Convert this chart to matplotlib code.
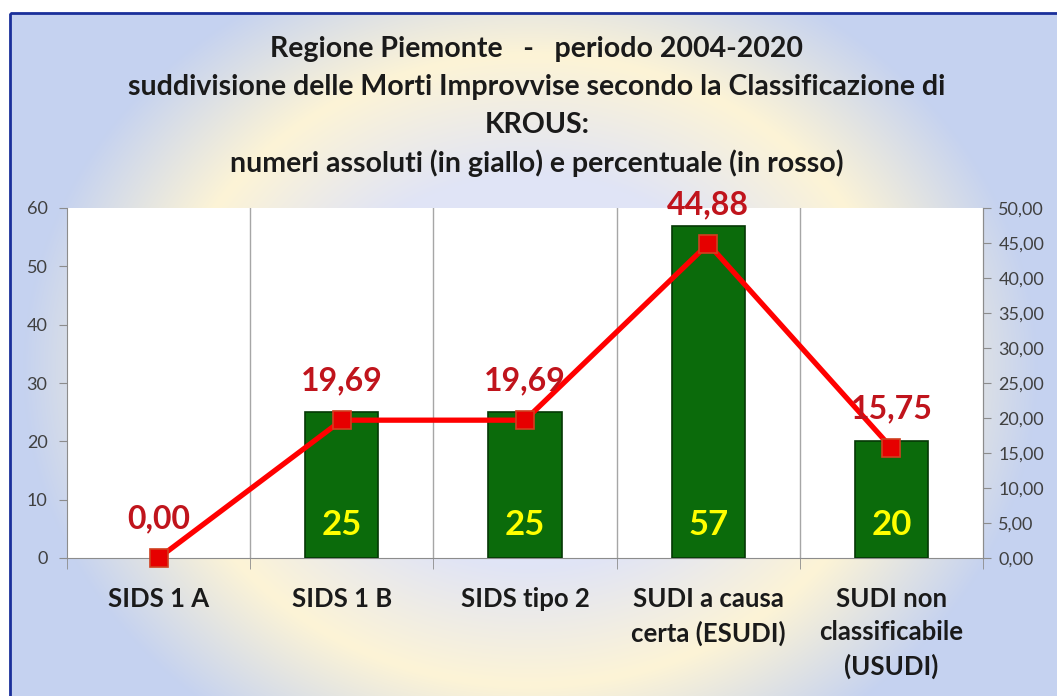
import matplotlib.pyplot as plt
import numpy as np
from matplotlib.patches import Rectangle
from matplotlib.ticker import FuncFormatter

categories = ['SIDS 1 A', 'SIDS 1 B', 'SIDS tipo 2', 'SUDI a causa\ncerta (ESUDI)',
              'SUDI non\nclassificabile\n(USUDI)']
counts = [0, 25, 25, 57, 20]
percents = [0.00, 19.69, 19.69, 44.88, 15.75]
title_lines = ['Regione Piemonte   -   periodo 2004-2020',
               'suddivisione delle Morti Improvvise secondo la Classificazione di',
               'KROUS:',
               'numeri assoluti (in giallo) e percentuale (in rosso)']

plt.rcParams['font.family'] = ['Lato', 'DejaVu Sans']

W, H = 1057, 696
fig = plt.figure(figsize=(W / 100, H / 100), dpi=100)
fig.patch.set_facecolor('white')

# background gradient (lavender centre, cream ring, blue outside)
bg = fig.add_axes([0, 0, 1, 1], zorder=0)
bg.set_xlim(0, W)
bg.set_ylim(H, 0)
bg.axis('off')
yy, xx = np.mgrid[0:H, 0:W]
r = np.sqrt(((xx - 530) / 350.0) ** 2 + ((yy - 370) / 300.0) ** 2)
lav = np.array([224, 228, 246]) / 255
cream = np.array([253, 244, 214]) / 255
blue = np.array([197, 210, 240]) / 255
t1 = np.clip((r - 0.65) / 0.4, 0, 1)[..., None]
t2 = np.clip((r - 1.05) / 0.4, 0, 1)[..., None]
img = lav * (1 - t1) + cream * t1
img = img * (1 - t2) + blue * t2
img[:13, :] = 1
img[:, :10] = 1
bg.imshow(img, extent=(0, W, H, 0), aspect='auto')
bg.add_patch(Rectangle((10, 13), W + 20, H + 20, fill=False, edgecolor='#1a2f9a', lw=2))

for i, line in enumerate(title_lines):
    bg.text(537, 49 + i * 38, line, ha='center', va='center', fontsize=20.5,
            fontweight='bold', color='#1a1a1a')

ax = fig.add_axes([67 / W, 1 - 558 / H, (983 - 67) / W, (558 - 208) / H], zorder=1)
ax.set_facecolor('white')
x = np.arange(len(categories))
for xi, c in zip(x, counts):
    if c > 0:
        ax.bar(xi, c, width=0.4, color='#0b6b0b', edgecolor='#053805', linewidth=1.2, zorder=3)
ax.set_xlim(-0.5, len(categories) - 0.5)
ax.set_ylim(0, 60)
ax.set_yticks(range(0, 61, 10))
for b in np.arange(0.5, len(categories) - 0.5):
    ax.axvline(b, color='#a6a6a6', lw=1, zorder=1)

ax.set_xticks(x)
ax.set_xticklabels(categories, fontsize=18.5, fontweight='bold', color='#1a1a1a',
                   linespacing=1.45, va='top')
ax.tick_params(axis='x', length=0, pad=21)
ax.set_xticks(np.arange(-0.5, len(categories)), minor=True)
ax.tick_params(axis='x', which='minor', length=8, color='#8c8c8c', direction='out')
ax.tick_params(axis='y', labelsize=13, labelcolor='#404040', color='#8c8c8c', length=6, pad=8)
ax.spines['top'].set_visible(False)
for s in ['left', 'bottom', 'right']:
    ax.spines[s].set_color('#8c8c8c')

for xi, c in zip(x, counts):
    if c > 0:
        ax.annotate(str(c), (xi, 0), xytext=(0, 24), textcoords='offset points',
                    ha='center', va='center', fontsize=25, fontweight='bold',
                    color='#ffff00', zorder=5)

ax2 = ax.twinx()
ax2.set_zorder(2)
ax2.patch.set_visible(False)
ax2.set_ylim(0, 50)
ax2.set_yticks(np.arange(0, 51, 5))
ax2.yaxis.set_major_formatter(FuncFormatter(lambda v, p: f'{v:.2f}'.replace('.', ',')))
ax2.tick_params(axis='y', labelsize=13, labelcolor='#404040', color='#8c8c8c', length=6, pad=5)
for s in ['top', 'left', 'bottom']:
    ax2.spines[s].set_visible(False)
ax2.spines['right'].set_color('#8c8c8c')

ax2.plot(x, percents, color='#ff0000', lw=3.8, marker='s', markersize=13.5,
         markerfacecolor='#e60000', markeredgecolor='#d04020', markeredgewidth=1.2,
         clip_on=False, zorder=4)
for xi, p in zip(x, percents):
    ax2.annotate(f'{p:.2f}'.replace('.', ','), (xi, p), xytext=(0, 28),
                 textcoords='offset points', ha='center', va='center', fontsize=23,
                 fontweight='bold', color='#c0141c', zorder=6, annotation_clip=False)

fig.savefig('out.png', dpi=100)
